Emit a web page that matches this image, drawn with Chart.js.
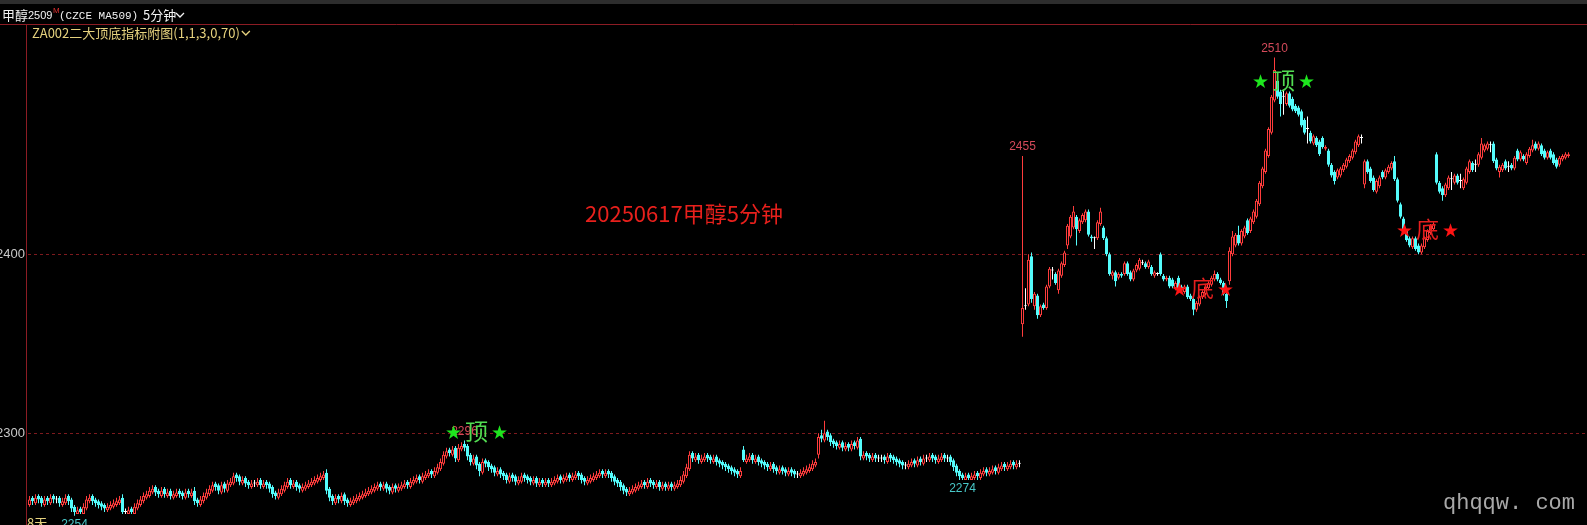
<!DOCTYPE html>
<html lang="zh-CN">
<head>
<meta charset="UTF-8">
<title>甲醇2509 5分钟</title>
<script src="https://cdn.jsdelivr.net/npm/chart.js"></script>
<style>
  html, body { margin: 0; padding: 0; background: #000; overflow: hidden; }
  #wrap { position: relative; width: 1587px; height: 525px; }
</style>
</head>
<body>
<div id="wrap"><canvas id="kline"></canvas></div>
<script>
// --- 5分钟K线 (开/高/低/收) ---
const open = [
  2260,2264,2261,2265,2264,2260,2264,2261,2265,2263,2264,2260,2261,2265,2263,2259,2255,2258,2255,2258,
  2262,2265,2263,2262,2261,2260,2257,2258,2259,2260,2261,2264,2256,2255,2258,2255,2258,2260,2262,2264,
  2265,2267,2270,2268,2265,2269,2265,2268,2264,2265,2268,2267,2264,2268,2265,2268,2263,2260,2262,2264,
  2266,2268,2272,2271,2267,2272,2268,2271,2272,2277,2276,2272,2275,2273,2270,2272,2271,2274,2270,2273,
  2272,2270,2267,2264,2266,2268,2270,2274,2270,2273,2271,2268,2269,2270,2271,2272,2273,2274,2275,2278,
  2269,2265,2261,2265,2262,2266,2263,2260,2261,2262,2263,2264,2265,2266,2267,2268,2269,2272,2269,2272,
  2270,2267,2271,2268,2269,2270,2273,2270,2272,2273,2276,2273,2275,2276,2279,2276,2278,2280,2283,2287,
  2291,2288,2292,2285,2291,2294,2293,2288,2283,2287,2283,2278,2285,2284,2282,2281,2277,2280,2278,2277,
  2273,2277,2276,2272,2273,2277,2276,2275,2272,2275,2271,2274,2271,2274,2271,2272,2273,2276,2273,2274,
  2277,2274,2275,2278,2277,2275,2272,2273,2274,2275,2276,2279,2276,2279,2278,2276,2274,2273,2271,2269,
  2266,2267,2268,2269,2270,2273,2270,2274,2273,2270,2273,2269,2272,2269,2272,2269,2270,2271,2273,2276,
  2280,2289,2285,2288,2284,2285,2288,2287,2284,2287,2285,2284,2283,2282,2281,2280,2279,2276,2291,2284,
  2285,2288,2284,2287,2285,2284,2283,2280,2283,2281,2278,2281,2280,2277,2280,2279,2277,2276,2277,2278,
  2279,2280,2282,2288,2299,2296,2301,2299,2296,2295,2292,2295,2291,2294,2291,2295,2292,2297,2286,2289,
  2288,2285,2288,2286,2286,2287,2284,2288,2287,2286,2285,2284,2282,2281,2282,2285,2282,2286,2283,2286,
  2285,2288,2287,2284,2285,2288,2286,2287,2285,2282,2279,2277,2274,2277,2274,2275,2278,2275,2277,2280,
  2277,2278,2281,2278,2280,2283,2280,2281,2284,2281,2283,
  2361,2371,2372,2399,2371,2377,2366,2372,2370,2382,2391,2389,2380,2388,2394,2405,2410,2415,2421,2413,
  2418,2419,2424,2410,2409,2409,2417,2415,2409,2400,2388,2390,2387,2389,2389,2395,2390,2386,2391,2392,
  2395,2395,2393,2393,2388,2389,2400,2388,2386,2387,2386,2381,2387,2382,2379,2382,2377,2375,2369,2372,
  2376,2378,2381,2383,2386,2389,2386,2384,2378,2385,2400,2405,2411,2406,2410,2419,2413,2418,2421,2428,
  2438,2446,2455,2468,2486,2497,2491,2488,2484,2490,2487,2483,2482,2480,2475,2470,2468,2462,2465,2463,
  2465,2459,2458,2450,2446,2443,2444,2447,2449,2452,2454,2457,2461,2465,2439,2452,2448,2443,2435,2438,
  2446,2443,2446,2448,2452,2442,2428,2420,2413,2409,2404,2409,2405,2401,2404,2408,2412,2414,2456,2440,
  2437,2433,2437,2442,2440,2444,2441,2437,2440,2446,2451,2450,2450,2454,2458,2459,2461,2462,2453,2446,
  2447,2452,2449,2450,2448,2458,2453,2455,2451,2455,2458,2462,2459,2461,2458,2454,2458,2456,2453,2450,
  2453,2454,2455
];
const high = [
  2265,2265,2266,2266,2265,2265,2265,2266,2266,2265,2265,2264,2266,2266,2264,2260,2259,2259,2261,2265,
  2266,2266,2264,2263,2262,2261,2261,2262,2263,2264,2265,2266,2258,2259,2259,2261,2263,2265,2267,2268,
  2270,2271,2271,2269,2270,2270,2269,2269,2268,2269,2269,2268,2269,2269,2269,2270,2264,2265,2267,2269,
  2271,2273,2273,2272,2273,2273,2274,2275,2278,2278,2277,2276,2276,2274,2274,2274,2275,2275,2274,2274,
  2273,2271,2268,2269,2271,2273,2275,2275,2274,2274,2272,2272,2273,2274,2275,2276,2277,2278,2279,2280,
  2270,2266,2266,2266,2267,2267,2264,2264,2265,2266,2267,2268,2269,2270,2271,2272,2273,2273,2273,2273,
  2271,2272,2272,2272,2273,2274,2274,2275,2276,2277,2277,2278,2279,2280,2280,2281,2283,2286,2290,2292,
  2292,2293,2293,2294,2295,2296,2294,2289,2288,2288,2284,2286,2286,2285,2283,2282,2281,2281,2279,2278,
  2278,2278,2277,2276,2278,2278,2277,2276,2276,2276,2275,2275,2275,2275,2275,2276,2277,2277,2277,2278,
  2278,2278,2279,2279,2278,2276,2276,2277,2278,2279,2280,2280,2280,2280,2279,2277,2275,2274,2272,2270,
  2270,2271,2272,2273,2274,2274,2275,2275,2274,2274,2274,2273,2273,2273,2273,2273,2274,2276,2279,2283,
  2290,2290,2289,2289,2288,2289,2289,2288,2288,2288,2286,2285,2284,2283,2282,2281,2280,2281,2293,2288,
  2289,2289,2288,2288,2286,2285,2284,2284,2284,2282,2282,2282,2281,2281,2281,2280,2279,2280,2281,2282,
  2283,2285,2286,2300,2302,2307,2302,2300,2297,2296,2296,2296,2295,2295,2296,2296,2298,2298,2290,2290,
  2289,2289,2289,2288,2288,2288,2289,2289,2288,2287,2286,2285,2284,2285,2286,2286,2287,2287,2288,2288,
  2289,2289,2288,2288,2289,2289,2288,2288,2286,2283,2280,2278,2278,2278,2278,2279,2279,2280,2281,2281,
  2281,2282,2282,2283,2284,2284,2284,2285,2285,2285,2285,
  2455,2381,2400,2401,2379,2378,2372,2373,2383,2393,2393,2390,2392,2396,2402,2417,2422,2427,2422,2420,
  2423,2425,2425,2411,2410,2419,2426,2416,2410,2401,2391,2391,2390,2390,2396,2396,2391,2392,2395,2398,
  2397,2396,2397,2394,2391,2390,2401,2389,2388,2388,2387,2385,2388,2383,2383,2383,2378,2376,2374,2377,
  2380,2383,2385,2388,2391,2390,2387,2385,2379,2404,2413,2412,2416,2414,2416,2420,2421,2425,2431,2441,
  2449,2459,2471,2489,2510,2500,2492,2492,2491,2491,2488,2484,2483,2481,2476,2477,2469,2467,2466,2464,
  2466,2461,2459,2451,2447,2448,2449,2451,2454,2456,2459,2464,2467,2467,2453,2453,2449,2444,2442,2444,
  2447,2448,2450,2452,2455,2443,2429,2421,2414,2410,2410,2410,2406,2406,2410,2414,2417,2418,2457,2441,
  2438,2440,2444,2446,2445,2445,2445,2443,2449,2453,2452,2453,2457,2465,2462,2463,2463,2463,2454,2450,
  2451,2453,2452,2451,2455,2459,2458,2456,2457,2460,2464,2463,2463,2462,2459,2458,2459,2457,2454,2455,
  2456,2457,2457
];
const low = [
  2259,2260,2260,2261,2259,2259,2260,2260,2261,2261,2259,2259,2260,2260,2256,2254,2255,2255,2255,2257,
  2261,2260,2259,2258,2257,2256,2256,2257,2258,2259,2260,2255,2255,2255,2255,2255,2257,2259,2261,2263,
  2264,2266,2265,2264,2264,2264,2264,2263,2263,2264,2264,2263,2263,2264,2264,2260,2259,2259,2261,2263,
  2265,2267,2268,2266,2266,2267,2267,2270,2271,2273,2271,2271,2270,2269,2269,2270,2270,2269,2269,2269,
  2267,2264,2263,2263,2265,2267,2269,2269,2269,2268,2267,2267,2268,2269,2270,2271,2272,2273,2274,2266,
  2262,2260,2260,2261,2261,2260,2259,2259,2260,2261,2262,2263,2264,2265,2266,2267,2268,2268,2268,2267,
  2266,2266,2267,2267,2268,2269,2269,2269,2271,2272,2272,2272,2274,2275,2275,2275,2277,2279,2282,2286,
  2287,2287,2284,2284,2290,2290,2285,2282,2282,2280,2276,2277,2281,2279,2278,2276,2276,2275,2274,2272,
  2272,2273,2271,2271,2272,2273,2272,2271,2271,2270,2270,2270,2270,2270,2270,2271,2272,2272,2272,2273,
  2273,2273,2274,2274,2272,2271,2271,2272,2273,2274,2275,2275,2275,2275,2273,2271,2270,2268,2266,2265,
  2265,2266,2267,2268,2269,2269,2269,2270,2269,2269,2268,2268,2268,2268,2268,2268,2269,2270,2272,2275,
  2279,2284,2284,2283,2283,2284,2284,2283,2283,2282,2281,2280,2279,2278,2277,2276,2275,2275,2284,2283,
  2284,2283,2283,2282,2281,2280,2279,2279,2278,2277,2277,2277,2276,2276,2276,2275,2275,2275,2276,2277,
  2278,2279,2281,2286,2295,2295,2296,2293,2292,2291,2291,2290,2290,2290,2290,2291,2291,2285,2285,2285,
  2284,2284,2284,2284,2284,2283,2283,2284,2283,2282,2281,2280,2280,2280,2281,2281,2281,2282,2282,2284,
  2284,2284,2283,2283,2284,2284,2284,2282,2279,2276,2274,2274,2274,2274,2274,2274,2274,2274,2276,2276,
  2276,2277,2277,2277,2279,2279,2279,2280,2280,2280,2281,
  2354,2369,2371,2373,2369,2364,2365,2369,2369,2381,2386,2383,2378,2387,2393,2403,2409,2414,2405,2412,
  2417,2418,2410,2407,2403,2408,2416,2408,2399,2388,2386,2382,2386,2387,2388,2388,2385,2385,2390,2391,
  2394,2392,2392,2388,2387,2388,2388,2385,2385,2381,2381,2380,2380,2379,2378,2375,2374,2366,2368,2371,
  2375,2377,2380,2382,2385,2385,2383,2377,2370,2383,2399,2404,2405,2405,2409,2411,2412,2417,2420,2427,
  2437,2445,2454,2467,2485,2487,2477,2478,2483,2482,2480,2479,2477,2471,2467,2462,2462,2461,2460,2455,
  2459,2458,2449,2443,2439,2442,2443,2446,2448,2451,2453,2456,2460,2462,2437,2445,2440,2435,2434,2437,
  2442,2442,2445,2447,2441,2429,2420,2413,2407,2404,2403,2402,2400,2400,2403,2407,2411,2413,2439,2434,
  2430,2432,2436,2436,2439,2439,2437,2436,2439,2445,2446,2446,2449,2453,2457,2458,2457,2451,2447,2443,
  2446,2447,2446,2447,2447,2452,2452,2452,2450,2454,2457,2458,2458,2455,2453,2453,2453,2450,2448,2449,
  2452,2453,2454
];
const close = [
  2263,2262,2264,2263,2261,2263,2262,2264,2263,2263,2261,2262,2264,2262,2258,2256,2257,2256,2259,2263,
  2264,2262,2261,2260,2259,2258,2259,2260,2261,2262,2263,2256,2256,2257,2256,2259,2261,2263,2265,2266,
  2268,2269,2267,2266,2268,2266,2267,2265,2266,2267,2266,2265,2267,2266,2267,2262,2261,2263,2265,2267,
  2269,2271,2270,2268,2271,2269,2272,2273,2276,2275,2273,2274,2272,2271,2272,2272,2273,2271,2272,2271,
  2269,2266,2265,2267,2269,2271,2273,2271,2272,2270,2269,2270,2271,2272,2273,2274,2275,2276,2277,2268,
  2264,2262,2264,2263,2265,2262,2261,2262,2263,2264,2265,2266,2267,2268,2269,2270,2271,2270,2271,2269,
  2268,2270,2269,2270,2271,2272,2271,2273,2274,2275,2274,2276,2277,2278,2277,2279,2281,2284,2288,2290,
  2289,2291,2286,2292,2293,2292,2287,2284,2286,2282,2279,2284,2283,2281,2280,2278,2279,2277,2276,2274,
  2276,2275,2273,2274,2276,2275,2274,2273,2274,2272,2273,2272,2273,2272,2273,2274,2275,2274,2275,2276,
  2275,2276,2277,2276,2274,2273,2274,2275,2276,2277,2278,2277,2278,2277,2275,2273,2272,2270,2268,2267,
  2268,2269,2270,2271,2272,2271,2273,2272,2271,2272,2270,2271,2270,2271,2270,2271,2272,2274,2277,2281,
  2288,2286,2287,2285,2286,2287,2286,2285,2286,2284,2283,2282,2281,2280,2279,2278,2277,2279,2285,2286,
  2287,2285,2286,2284,2283,2282,2281,2282,2280,2279,2280,2279,2278,2279,2278,2277,2277,2278,2279,2280,
  2281,2283,2284,2298,2297,2300,2298,2295,2294,2293,2294,2292,2293,2292,2294,2293,2296,2287,2288,2287,
  2286,2287,2286,2286,2286,2285,2287,2286,2285,2284,2283,2282,2282,2283,2284,2283,2285,2284,2286,2286,
  2287,2286,2285,2286,2287,2286,2286,2284,2281,2278,2276,2275,2276,2275,2276,2277,2276,2278,2279,2278,
  2279,2280,2279,2281,2282,2281,2282,2283,2282,2283,2283,
  2370,2371,2397,2375,2378,2366,2371,2370,2382,2392,2391,2384,2391,2395,2401,2416,2421,2424,2414,2419,
  2422,2424,2411,2409,2409,2418,2424,2409,2400,2389,2390,2385,2389,2388,2395,2389,2386,2391,2394,2397,
  2395,2393,2396,2389,2390,2389,2389,2386,2387,2382,2382,2384,2381,2380,2382,2376,2375,2369,2373,2376,
  2379,2382,2384,2387,2389,2386,2384,2378,2374,2402,2410,2411,2406,2413,2415,2412,2420,2424,2430,2440,
  2448,2458,2470,2488,2503,2488,2484,2488,2490,2483,2481,2480,2478,2472,2468,2470,2463,2466,2461,2456,
  2460,2460,2450,2444,2441,2447,2448,2450,2453,2455,2458,2463,2466,2465,2452,2446,2441,2436,2441,2443,
  2443,2447,2449,2451,2442,2430,2421,2414,2408,2405,2409,2403,2401,2405,2409,2413,2416,2417,2440,2435,
  2433,2439,2443,2442,2444,2440,2441,2442,2448,2452,2447,2450,2456,2462,2461,2462,2461,2452,2448,2449,
  2450,2448,2449,2448,2454,2453,2457,2453,2456,2459,2461,2459,2462,2456,2454,2457,2454,2451,2449,2454,
  2455,2456,2456
];

// 虚线价位
const gridLevels = [2300, 2400];

// 高低点标注 (K线序号, 价格, 上/下)
const markBars = [415, 331, 145, 311, 15];
const markValues = [2510, 2455, 2296, 2274, 2254];
const markSide = ['up', 'up', 'up', 'down', 'down'];

// 顶底信号 (中心K线序号, 价格, 文字)
const signalBars = [149, 418, 391, 466];
const signalValues = [2300, 2496, 2380, 2413];
const signalText = ['顶', '顶', '底', '底'];

const UP = '#ff3c3c', DOWN = '#54fcfc', FLAT = '#ffffff';
const tone = close.map((c, i) => c > open[i] ? UP : (c < open[i] ? DOWN : FLAT));

function chevron(ctx, x, y, color) {
  ctx.save();
  ctx.strokeStyle = color;
  ctx.lineWidth = 1.3;
  ctx.beginPath();
  ctx.moveTo(x - 4, y - 2);
  ctx.lineTo(x, y + 2);
  ctx.lineTo(x + 4, y - 2);
  ctx.stroke();
  ctx.restore();
}

const decor = {
  id: 'decor',
  beforeDraw(chart) {
    const { ctx, width, height } = chart;
    const ys = chart.scales.y;
    ctx.save();
    ctx.fillStyle = '#000';
    ctx.fillRect(0, 0, width, height);
    ctx.fillStyle = '#2d2d2d';
    ctx.fillRect(0, 0, width, 4);

    // 标题栏
    ctx.textBaseline = 'middle';
    ctx.textAlign = 'left';
    ctx.fillStyle = '#f2f2f2';
    ctx.font = '13px "Noto Sans CJK SC"';
    ctx.fillText('甲醇', 2, 15);
    ctx.font = '11px "Liberation Sans"';
    ctx.fillText('2509', 28, 16);
    ctx.fillStyle = '#e03030';
    ctx.font = '8px "Liberation Sans"';
    ctx.fillText('M', 53, 11);
    ctx.fillStyle = '#f2f2f2';
    ctx.font = '11px "Liberation Mono"';
    ctx.fillText('(CZCE MA509)', 59, 16);
    ctx.font = '13px "Noto Sans CJK SC"';
    ctx.fillText('5分钟', 143, 15);
    chevron(ctx, 180, 15, '#f2f2f2');

    // 边框
    ctx.strokeStyle = '#8c1c24';
    ctx.lineWidth = 1;
    ctx.beginPath();
    ctx.moveTo(0, 24.5); ctx.lineTo(width, 24.5);
    ctx.moveTo(26.5, 25); ctx.lineTo(26.5, height);
    ctx.stroke();

    // 副图名称
    ctx.fillStyle = '#e6d27e';
    ctx.font = '13px "Noto Sans CJK SC"';
    const sub = 'ZA002二大顶底指标附图(1,1,3,0,70)';
    ctx.fillText(sub, 32, 33);
    chevron(ctx, 32 + ctx.measureText(sub).width + 6, 33, '#e6d27e');

    // 价位虚线
    ctx.setLineDash([3, 3]);
    ctx.strokeStyle = '#7e1a1e';
    gridLevels.forEach(v => {
      const py = Math.round(ys.getPixelForValue(v)) + 0.5;
      ctx.beginPath(); ctx.moveTo(28, py); ctx.lineTo(width, py); ctx.stroke();
    });
    ctx.setLineDash([]);
    ctx.fillStyle = '#c8c8c8';
    ctx.font = '13px "Liberation Sans"';
    ctx.textAlign = 'right';
    gridLevels.forEach(v => ctx.fillText(String(v), 25, ys.getPixelForValue(v)));

    // 图中说明
    ctx.textAlign = 'left';
    ctx.fillStyle = '#e8201c';
    ctx.font = '22px "Noto Sans CJK SC"';
    ctx.fillText('20250617甲醇5分钟', 585, 214);
    ctx.restore();
  },
  afterDatasetsDraw(chart) {
    const { ctx } = chart;
    const xs = chart.scales.x, ys = chart.scales.y;
    ctx.save();
    ctx.textBaseline = 'middle';
    ctx.textAlign = 'center';

    // 高低点数字
    ctx.font = '12px "Liberation Sans"';
    markBars.forEach((b, k) => {
      const up = markSide[k] === 'up';
      ctx.fillStyle = up ? '#d44a5a' : '#48c8c8';
      ctx.fillText(String(markValues[k]), xs.getPixelForValue(b), ys.getPixelForValue(markValues[k]) + (up ? -9 : 9));
    });

    // 顶底信号
    signalBars.forEach((b, k) => {
      const px = xs.getPixelForValue(b);
      const py = ys.getPixelForValue(signalValues[k]);
      const top = signalText[k] === '顶';
      ctx.font = '19px "DejaVu Sans"';
      ctx.fillStyle = top ? '#1ee61e' : '#ff1414';
      ctx.fillText('★', px - 23, py + 1);
      ctx.fillText('★', px + 23, py + 1);
      ctx.font = '23px "Noto Sans CJK SC"';
      ctx.fillStyle = top ? '#52dc52' : '#e61e1e';
      ctx.fillText(signalText[k], px, py - 2);
    });

    // 左下角
    ctx.textAlign = 'left';
    ctx.fillStyle = '#e6d27e';
    ctx.font = '13px "Noto Sans CJK SC"';
    ctx.fillText('8天', 27, 523);

    // 水印
    ctx.fillStyle = '#a8a8a8';
    ctx.font = '22px "Liberation Mono"';
    ctx.fillText('qhqqw. com', 1443, 503);
    ctx.restore();
  }
};

new Chart(document.getElementById('kline'), {
  type: 'bar',
  data: {
    labels: close.map((_, i) => i),
    datasets: [
      {
        label: '影线',
        data: low.map((l, i) => [l, high[i]]),
        backgroundColor: tone,
        borderWidth: 0,
        barThickness: 1,
        grouped: false,
        inflateAmount: 0,
        order: 2
      },
      {
        label: '实体',
        data: open.map((o, i) => [o, close[i]]),
        backgroundColor: tone.map(c => c === UP ? '#000' : c),
        borderColor: tone,
        borderWidth: 1,
        borderSkipped: false,
        barThickness: 3,
        minBarLength: 1,
        grouped: false,
        inflateAmount: 0,
        order: 1
      }
    ]
  },
  options: {
    responsive: true,
    maintainAspectRatio: false,
    animation: false,
    events: [],
    layout: { padding: { left: 28, right: 17, top: 24, bottom: 0 } },
    scales: {
      x: { display: false, offset: true, grid: { display: false } },
      y: { display: false, min: 2248.8, max: 2528.7 }
    },
    plugins: { legend: { display: false }, tooltip: { enabled: false } }
  },
  plugins: [decor]
});
</script>
</body>
</html>
